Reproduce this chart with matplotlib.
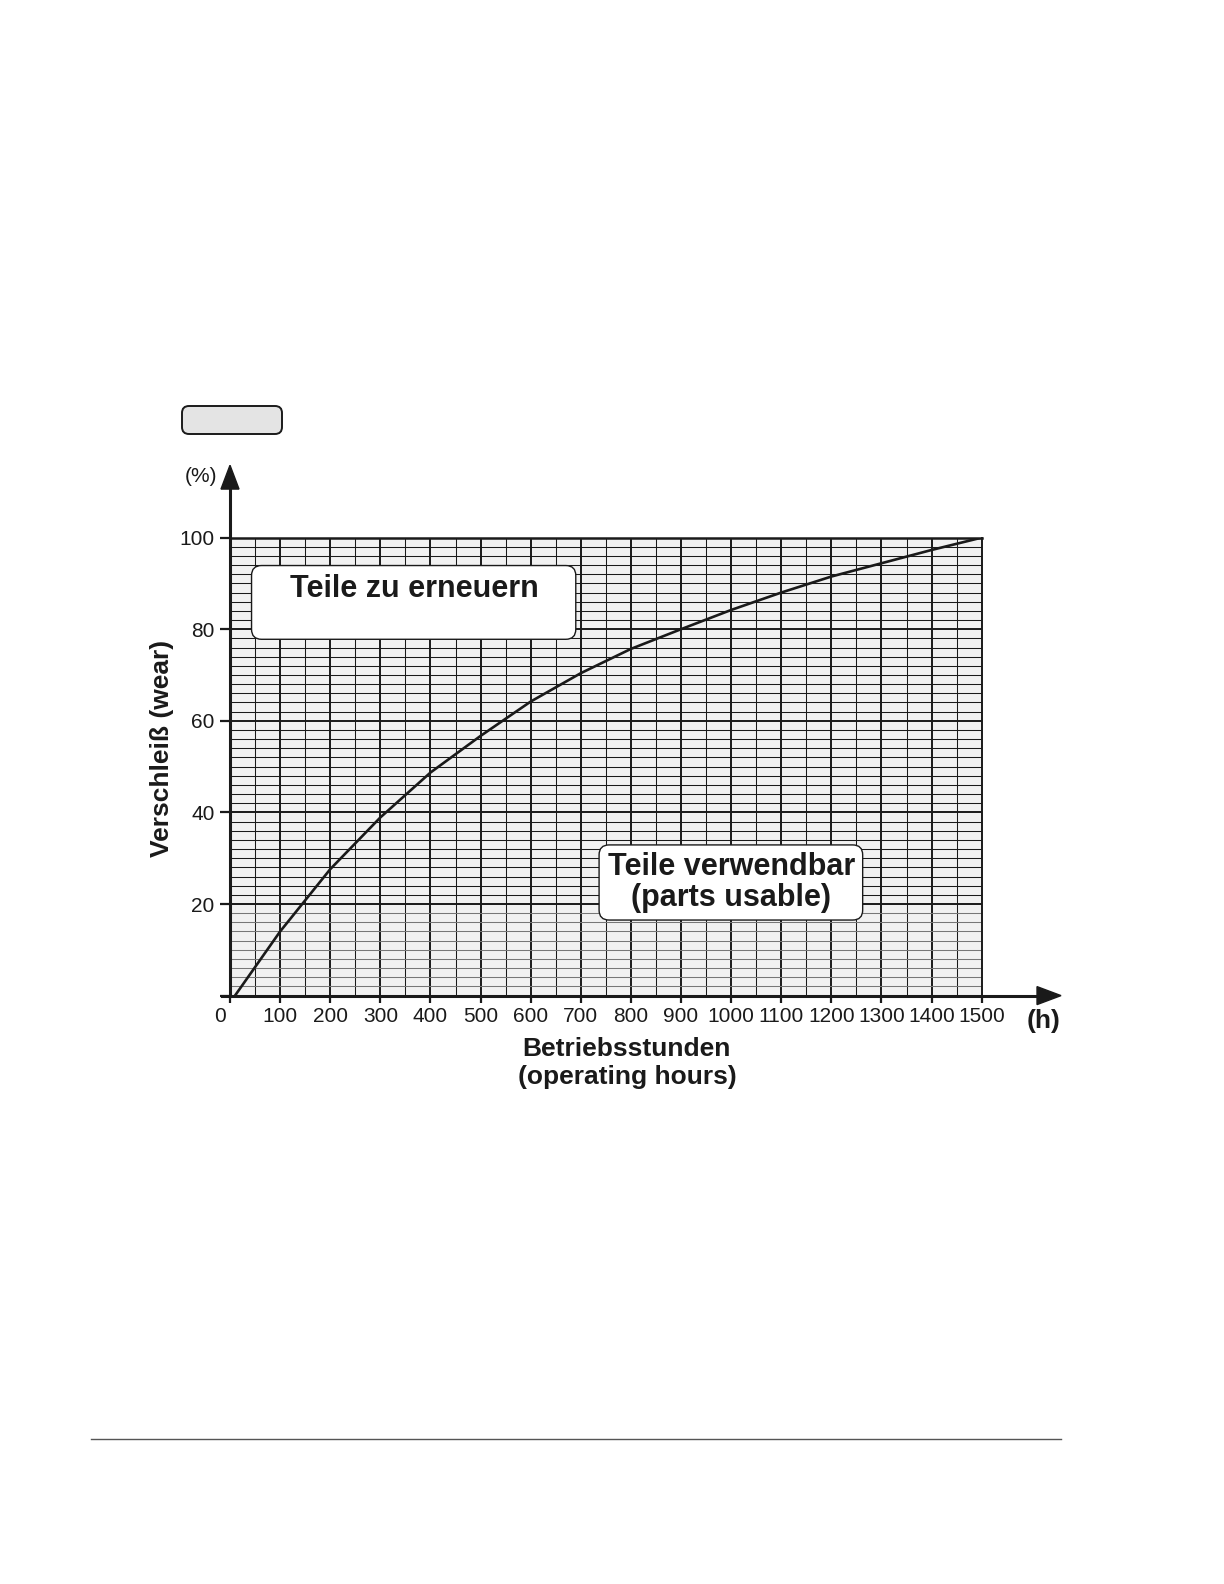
import numpy as np
import matplotlib
matplotlib.use("Agg")
import matplotlib.pyplot as plt
from matplotlib.patches import FancyBboxPatch, Polygon
from matplotlib.lines import Line2D

plt.rcParams['font.family'] = ['Liberation Sans', 'DejaVu Sans']

# Wear curve: operating hours vs. wear in percent
hours = [10, 100, 200, 300, 400, 500, 600, 700, 800, 900, 1000, 1100, 1200, 1300, 1400, 1500]
wear = [0, 14, 27.6, 38.9, 48.7, 56.7, 64.2, 70.4, 75.7, 80, 84.2, 88, 91.5, 94.4, 97.3, 100]

x_ticks = [0, 100, 200, 300, 400, 500, 600, 700, 800, 900, 1000, 1100, 1200, 1300, 1400, 1500]
x_labels = ['', '100', '200', '300', '400', '500', '600', '700', '800', '900',
            '1000', '1100', '1200', '1300', '1400', '1500']
y_ticks = [0, 20, 40, 60, 80, 100]
y_labels = ['', '20', '40', '60', '80', '100']

region_upper = "Teile zu erneuern"
region_lower = ["Teile verwendbar", "(parts usable)"]
y_title = "Verschleiß (wear)"
x_title = ["Betriebsstunden", "(operating hours)"]

INK = '#1a1a1a'
FW, FH = 1224, 1584
fig = plt.figure(figsize=(FW / 100, FH / 100), dpi=100)
ax_rect = [0.18791, 0.37146, 0.61413, 0.28914]
ax = fig.add_axes(ax_rect)
ax.set_xlim(0, 1500)
ax.set_ylim(0, 100)
ax.set_facecolor('#f1f1f1')

# millimetre-paper style grid
for xv in np.arange(50, 1500, 50):
    major = xv % 100 == 0
    ax.axvline(xv, color=INK, lw=1.4 if major else 0.75, zorder=1)
for yv in np.arange(2, 100, 2):
    major = yv % 20 == 0
    if major:
        ax.axhline(yv, color=INK, lw=1.4, zorder=1)
    else:
        ax.axhline(yv, color=INK if yv > 20 else '#777777', lw=0.75, zorder=1)

for side in ['left', 'bottom']:
    ax.spines[side].set_visible(False)
ax.spines['top'].set_linewidth(1.8)
ax.spines['right'].set_linewidth(1.4)
ax.spines['top'].set_color(INK)
ax.spines['right'].set_color(INK)

ax.set_xticks(x_ticks, x_labels)
ax.set_yticks(y_ticks, y_labels)
ax.tick_params(axis='both', direction='out', length=5, width=1.6, color=INK,
               labelsize=15, labelcolor=INK, pad=3.5)
ax.tick_params(axis='y', length=7, pad=4)
ax.annotate('0', xy=(-20, 0), xycoords=('data', 'axes fraction'),
            xytext=(0, -8.5), textcoords='offset points', ha='center', va='top',
            fontsize=15, color=INK)

# axis lines with arrow heads
W = FW * ax_rect[2]
H = FH * ax_rect[3]
ax.add_line(Line2D([0, 0], [0, 1.11], transform=ax.transAxes, color=INK, lw=2.2,
                   clip_on=False, zorder=5))
ax.add_line(Line2D([-8 / W, 1.08], [0, 0], transform=ax.transAxes, color=INK, lw=2.2,
                   clip_on=False, zorder=5))
ax.add_patch(Polygon([[-9 / W, 1.106], [9 / W, 1.106], [0, 1.158]], closed=True,
                     transform=ax.transAxes, color=INK, clip_on=False, zorder=5))
ax.add_patch(Polygon([[1.0736, -9 / H], [1.0736, 9 / H], [1.1055, 0]], closed=True,
                     transform=ax.transAxes, color=INK, clip_on=False, zorder=5))

ax.text(-0.0386, 1.1345, '(%)', transform=ax.transAxes, ha='center', va='center',
        fontsize=15, color=INK)
ax.text(1.0829, -0.0555, '(h)', transform=ax.transAxes, ha='center', va='center',
        fontsize=19, fontweight='bold', color=INK)

# wear curve
ax.plot(hours, wear, color=INK, lw=1.9, zorder=4, solid_capstyle='round',
        solid_joinstyle='round')

# labelled regions
px_x = W / 1500
px_y = H / 100
aspect = px_x / px_y
r = 10 / px_x
box1 = FancyBboxPatch((43, 77.8), 690 - 43, 93.9 - 77.8,
                      boxstyle=f"round,pad=0,rounding_size={r}", mutation_aspect=aspect,
                      facecolor='white', edgecolor=INK, lw=1.0, zorder=3)
ax.add_patch(box1)
ax.text(367, 88.7, region_upper, ha='center', va='center', fontsize=22,
        fontweight='bold', color=INK, zorder=5)
box2 = FancyBboxPatch((736.5, 16.5), 1262.5 - 736.5, 32.9 - 16.5,
                      boxstyle=f"round,pad=0,rounding_size={r}", mutation_aspect=aspect,
                      facecolor='white', edgecolor=INK, lw=1.0, zorder=3)
ax.add_patch(box2)
ax.text(1000, 28.0, region_lower[0], ha='center', va='center', fontsize=22,
        fontweight='bold', color=INK, zorder=5)
ax.text(1000, 21.4, region_lower[1], ha='center', va='center', fontsize=22,
        fontweight='bold', color=INK, zorder=5)

# axis titles
ax.text(792, -0.1166, x_title[0], transform=ax.get_xaxis_transform(), ha='center',
        va='center', fontsize=19, fontweight='bold', color=INK)
ax.text(792, -0.178, x_title[1], transform=ax.get_xaxis_transform(), ha='center',
        va='center', fontsize=19, fontweight='bold', color=INK)
fig.text(162 / FW, 1 - 748 / FH, y_title, rotation=90, ha='center', va='center',
         fontsize=19, fontweight='bold', color=INK)

# blank grey label tag above the chart
fig.patches.append(FancyBboxPatch((182 / FW, 1 - 434 / FH), 100 / FW, 28 / FH,
                                  boxstyle=f"round,pad=0,rounding_size={7 / FW}",
                                  mutation_aspect=FW / FH,
                                  transform=fig.transFigure, facecolor='#e4e4e4',
                                  edgecolor=INK, lw=1.4))

# footer rule
fig.add_artist(Line2D([91 / FW, 1061 / FW], [1 - 1439 / FH] * 2, transform=fig.transFigure,
                      color='#555555', lw=1.0))

fig.savefig('out.png', dpi=100, facecolor='white')
